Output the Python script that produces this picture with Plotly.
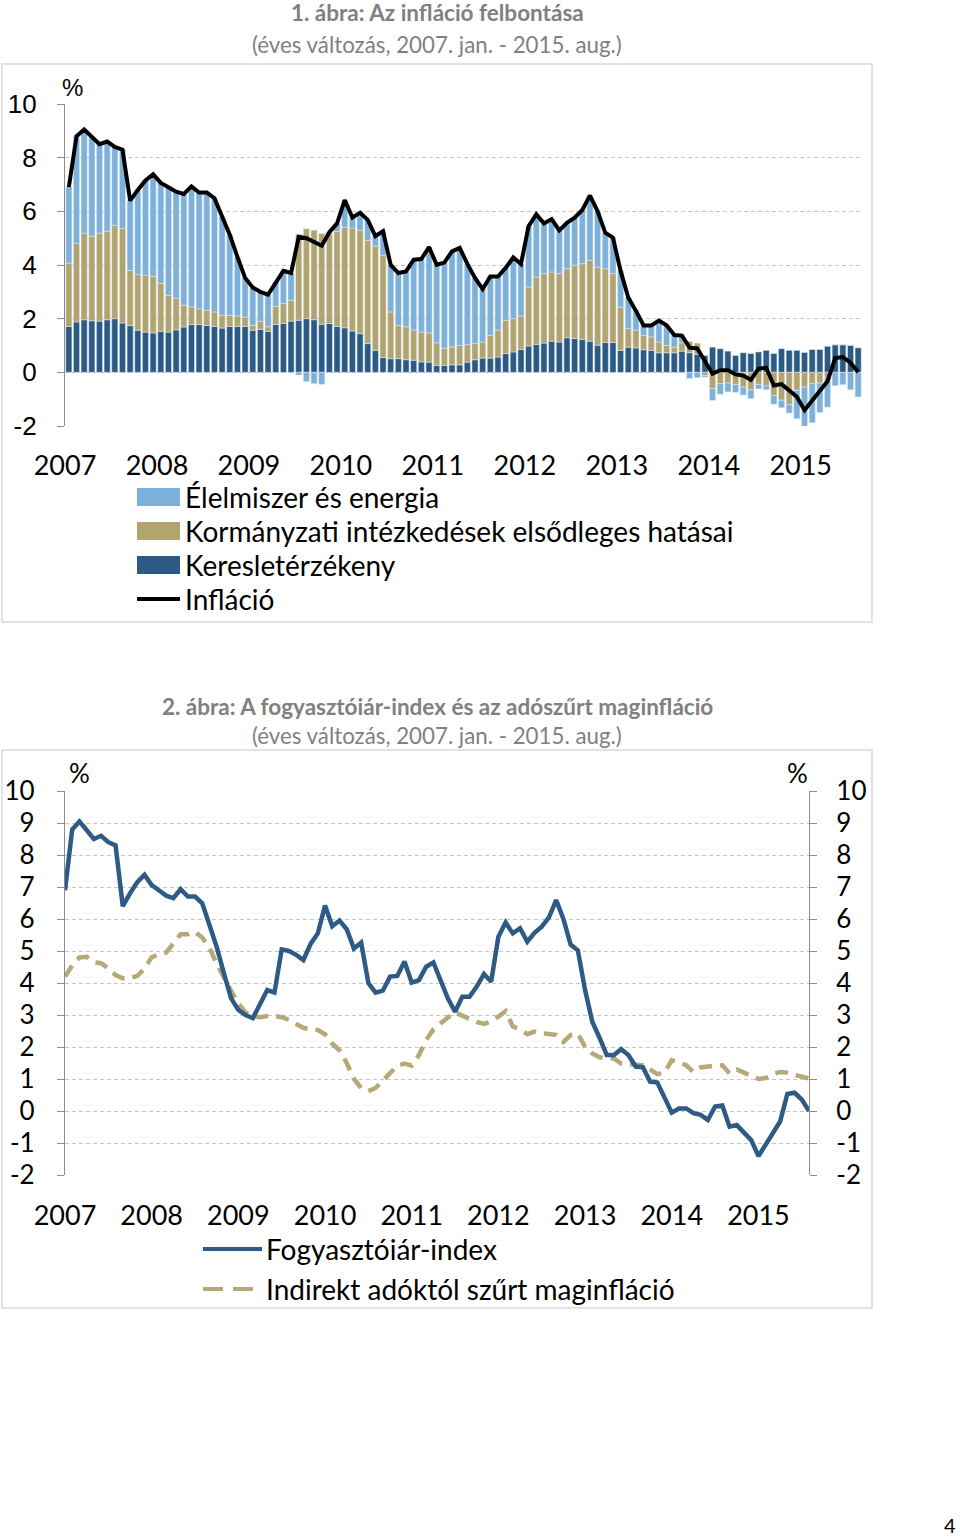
import plotly.graph_objects as go

W, H = 960, 1537

# ---------------- data ----------------
months = list(range(104))          # 2007 Jan ... 2015 Aug
years = [str(y) for y in range(2007, 2016)]

cpi = [6.9, 8.8, 9.05, 8.75, 8.5, 8.6, 8.4, 8.3, 6.4, 6.8, 7.15, 7.38,
       7.06, 6.9, 6.73, 6.65, 6.93, 6.7, 6.7, 6.49, 5.8, 5.13, 4.3, 3.52,
       3.16, 3.0, 2.9, 3.37, 3.78, 3.7, 5.05, 5.0, 4.88, 4.72, 5.22, 5.55,
       6.42, 5.77, 5.95, 5.68, 5.08, 5.26, 4.0, 3.7, 3.76, 4.2, 4.22, 4.67,
       4.01, 4.09, 4.51, 4.64, 4.04, 3.52, 3.1, 3.57, 3.57, 3.89, 4.28, 4.04,
       5.45, 5.89, 5.55, 5.71, 5.29, 5.57, 5.76, 6.05, 6.59, 6.0, 5.2, 5.02,
       3.78, 2.79, 2.29, 1.75, 1.75, 1.93, 1.75, 1.39, 1.37, 0.92, 0.89, 0.45,
       -0.05, 0.08, 0.08, -0.07, -0.12, -0.28, 0.14, 0.17, -0.49, -0.44, -0.7, -0.91,
       -1.41, -1.03, -0.65, -0.33, 0.53, 0.57, 0.36, 0.0]

core = [4.2, 4.55, 4.8, 4.82, 4.65, 4.62, 4.45, 4.25, 4.15, 4.15, 4.22, 4.45,
        4.8, 4.9, 4.95, 5.25, 5.52, 5.52, 5.6, 5.42, 5.1, 4.6, 4.15, 3.75,
        3.36, 3.08, 2.97, 2.93, 2.97, 2.97, 2.93, 2.85, 2.72, 2.6, 2.55, 2.53,
        2.4, 2.1, 1.9, 1.5, 1.0, 0.72, 0.62, 0.72, 0.95, 1.2, 1.42, 1.48,
        1.42, 1.75, 2.22, 2.55, 2.75, 2.92, 3.08, 2.98, 2.85, 2.78, 2.72, 2.8,
        2.95, 3.12, 2.64, 2.55, 2.4, 2.48, 2.43, 2.4, 2.38, 2.16, 2.37, 2.42,
        2.0, 1.8, 1.68, 1.64, 1.64, 1.48, 1.46, 1.45, 1.43, 1.3, 1.15, 1.2,
        1.59, 1.52, 1.43, 1.22, 1.36, 1.39, 1.42, 1.43, 1.18, 1.3, 1.2, 1.1,
        1.0, 1.03, 1.15, 1.22, 1.2, 1.13, 1.08, 1.02]

demand = [1.71, 1.88, 1.96, 1.92, 1.91, 1.96, 2.0, 1.84, 1.74, 1.57, 1.5, 1.47,
          1.53, 1.5, 1.58, 1.69, 1.78, 1.78, 1.75, 1.71, 1.65, 1.71, 1.71, 1.71,
          1.57, 1.6, 1.53, 1.78, 1.82, 1.91, 1.94, 2.0, 1.96, 1.79, 1.82, 1.71,
          1.66, 1.54, 1.44, 1.07, 0.82, 0.55, 0.51, 0.51, 0.47, 0.45, 0.39, 0.38,
          0.26, 0.26, 0.28, 0.28, 0.38, 0.47, 0.53, 0.53, 0.57, 0.70, 0.76, 0.85,
          0.98, 1.04, 1.09, 1.16, 1.13, 1.29, 1.26, 1.23, 1.16, 1.01, 1.11, 1.11,
          0.82, 0.94, 0.91, 0.84, 0.82, 0.73, 0.73, 0.73, 0.79, 0.73, 0.67, 0.63,
          0.94, 0.88, 0.79, 0.63, 0.73, 0.70, 0.76, 0.82, 0.70, 0.88, 0.82, 0.82,
          0.74, 0.85, 0.85, 0.97, 1.03, 1.03, 1.01, 0.92]

govt = [2.36, 2.92, 3.23, 3.15, 3.28, 3.3, 3.48, 3.52, 2.06, 2.07, 2.12, 2.11,
        1.78, 1.37, 1.17, 0.81, 0.66, 0.59, 0.56, 0.54, 0.47, 0.41, 0.39, 0.35,
        0.18, 0.3, 0.17, 0.68, 0.74, 0.77, 3.2, 3.35, 3.34, 3.38, 3.33, 3.54,
        3.74, 3.84, 3.86, 3.85, 3.88, 3.8, 1.74, 1.24, 1.23, 1.13, 1.11, 1.09,
        0.84, 0.64, 0.67, 0.72, 0.65, 0.6, 0.6, 0.85, 1.0, 1.24, 1.24, 1.25,
        2.2, 2.51, 2.59, 2.58, 2.55, 2.57, 2.73, 2.82, 3.01, 2.91, 2.75, 2.57,
        1.61, 0.69, 0.66, 0.54, 0.5, 0.4, 0.27, 0.21, 0.31, 0.42, 0.42, -0.12,
        -0.6, -0.42, -0.4, -0.45, -0.55, -0.65, -0.45, -0.5, -0.86, -1.04, -1.2, -0.67,
        -0.55, -0.42, -0.4, -0.2, 0.0, 0.0, 0.0, 0.0]

food = [2.83, 4.0, 3.86, 3.68, 3.31, 3.34, 2.92, 2.94, 2.6, 3.16, 3.53, 3.8,
        3.75, 4.03, 3.98, 4.15, 4.49, 4.33, 4.39, 4.24, 3.68, 3.01, 2.2, 1.46,
        1.41, 1.1, 1.2, 0.91, 1.22, 1.02, -0.1, -0.35, -0.42, -0.45, 0.07, 0.3,
        1.02, 0.39, 0.65, 0.76, 0.38, 0.91, 1.75, 1.95, 2.06, 2.62, 2.72, 3.2,
        2.91, 3.19, 3.56, 3.64, 3.01, 2.45, 1.97, 2.19, 2.0, 1.95, 2.28, 1.94,
        2.27, 2.34, 1.87, 1.97, 1.61, 1.71, 1.77, 2.0, 2.42, 2.08, 1.34, 1.34,
        1.35, 1.16, 0.72, 0.37, 0.43, 0.8, 0.75, 0.45, 0.27, -0.23, -0.2, -0.06,
        -0.45, -0.4, -0.33, -0.3, -0.3, -0.33, -0.17, -0.15, -0.33, -0.28, -0.32, -1.06,
        -1.6, -1.46, -1.1, -1.1, -0.5, -0.46, -0.65, -0.92]

y_ticks1 = [-2, 0, 2, 4, 6, 8, 10]
y_ticks2 = list(range(-2, 11))
y_text1 = [str(v) for v in y_ticks1]   # plain hyphen minus as in the reference
y_text2 = [str(v) for v in y_ticks2]

# ---------------- styling ----------------
C_FOOD = "#7EB1DA"
C_GOV = "#B2A46F"
C_DEM = "#2B5A84"
C_CPI2 = "#2D5B85"
C_CORE = "#B6A877"
GRID = "#c6c6c6"
AXC = "#8c8c8c"
TITLE_C = "#808080"
CAL = "Lato, 'Open Sans', sans-serif"
ARI = "'Liberation Sans', Arial, sans-serif"


def fx(px):
    return px / W


def fy(py):
    return 1 - py / H


fig = go.Figure()

# chart 1: stacked bars + inflation line
fig.add_trace(go.Bar(x=months, y=demand, name="Keresletérzékeny", marker_color=C_DEM,
                     xaxis="x", yaxis="y", showlegend=False))
fig.add_trace(go.Bar(x=months, y=govt, name="Kormányzati intézkedések elsődleges hatásai",
                     marker_color=C_GOV, xaxis="x", yaxis="y", showlegend=False))
fig.add_trace(go.Bar(x=months, y=food, name="Élelmiszer és energia", marker_color=C_FOOD,
                     xaxis="x", yaxis="y", showlegend=False))
fig.add_trace(go.Scatter(x=months, y=cpi, name="Infláció", mode="lines",
                         line=dict(color="black", width=4), xaxis="x", yaxis="y",
                         showlegend=False))

# chart 2: CPI and core inflation
fig.add_trace(go.Scatter(x=months, y=core, name="Indirekt adóktól szűrt maginfláció",
                         mode="lines", line=dict(color=C_CORE, width=4.5, dash="13px,8px"),
                         xaxis="x2", yaxis="y2", showlegend=False))
fig.add_trace(go.Scatter(x=months, y=cpi, name="Fogyasztóiár-index", mode="lines",
                         line=dict(color=C_CPI2, width=4.5), xaxis="x2", yaxis="y2",
                         showlegend=False))
# right-hand axis companion (same series, invisible) so the axis renders
fig.add_trace(go.Scatter(x=months, y=cpi, mode="lines", line=dict(width=0),
                         opacity=0, hoverinfo="skip", xaxis="x2", yaxis="y3",
                         showlegend=False))

dom1_y = [fy(426), fy(104)]
dom2_y = [fy(1175), fy(791)]
zero1 = dom1_y[0] + (0 - (-2)) / 12 * (dom1_y[1] - dom1_y[0])
zero2 = dom2_y[0] + (0 - (-2)) / 12 * (dom2_y[1] - dom2_y[0])

ticks1 = [12 * k - 0.5 for k in range(len(years))]
ticks2 = [12 * k for k in range(len(years))]

fig.update_layout(
    width=W, height=H, autosize=False,
    margin=dict(l=0, r=0, t=0, b=0, pad=0, autoexpand=False),
    paper_bgcolor="white", plot_bgcolor="rgba(0,0,0,0)",
    barmode="relative", bargap=0.2,
    font=dict(family=CAL, color="black"),
    xaxis=dict(domain=[fx(65), fx(862)], range=[-0.5, 103.5], anchor="y",
               tickmode="array", tickvals=ticks1, ticktext=years, automargin=False,
               ticks="outside", ticklen=16, tickcolor="rgba(0,0,0,0)",
               showline=False, showgrid=False, zeroline=False,
               tickfont=dict(family=CAL, size=27, color="black")),
    xaxis3=dict(overlaying="x", range=[-0.5, 103.5], anchor="free", position=zero1,
                tickmode="array", tickvals=ticks1, showticklabels=False, automargin=False,
                ticks="outside", ticklen=9, tickcolor=AXC, showline=True,
                linecolor=AXC, linewidth=1.3, showgrid=False, zeroline=False,
                layer="below traces"),
    yaxis=dict(domain=dom1_y, range=[-2, 10], anchor="x", tickmode="array",
               tickvals=y_ticks1, ticktext=y_text1, automargin=False,
               showgrid=True, gridcolor=GRID, griddash="4px,3px",
               gridwidth=1, zeroline=False, showline=True, linecolor=AXC, linewidth=1.3,
               ticks="outside", ticklen=7, tickcolor=AXC, ticklabelstandoff=15,
               tickfont=dict(family=ARI, size=26, color="black")),
    xaxis2=dict(domain=[fx(65), fx(809)], range=[0, 103], anchor="y2",
                tickmode="array", tickvals=ticks2, ticktext=years, automargin=False,
                ticks="outside", ticklen=17, tickcolor="rgba(0,0,0,0)",
                showline=False, showgrid=False, zeroline=False,
                tickfont=dict(family=CAL, size=27, color="black")),
    xaxis4=dict(overlaying="x2", range=[0, 103], anchor="free", position=zero2,
                tickmode="array", tickvals=ticks2, showticklabels=False, automargin=False,
                ticks="outside", ticklen=8, tickcolor=AXC, showline=True,
                linecolor=AXC, linewidth=1.3, showgrid=False, zeroline=False,
                layer="below traces"),
    yaxis2=dict(domain=dom2_y, range=[-2, 10], anchor="x2", tickmode="array",
                tickvals=y_ticks2, ticktext=y_text2, automargin=False,
                showgrid=True, gridcolor=GRID, griddash="4px,3px",
                gridwidth=1, zeroline=False, showline=True, linecolor=AXC, linewidth=1.3,
                ticks="outside", ticklen=7, tickcolor=AXC, ticklabelstandoff=17,
                tickfont=dict(family=CAL, size=26, color="black")),
    yaxis3=dict(overlaying="y2", side="right", anchor="x2", range=[-2, 10],
                tickmode="array", tickvals=y_ticks2, ticktext=y_text2, automargin=False,
                showgrid=False, zeroline=False,
                showline=True, linecolor=AXC, linewidth=1.3, ticks="outside",
                ticklen=7, tickcolor=AXC, ticklabelstandoff=14,
                tickfont=dict(family=CAL, size=26, color="black")),
)

ann = []


def text(x, y, s, size, color="black", family=CAL, anchor="center"):
    ann.append(dict(x=fx(x), y=fy(y), xref="paper", yref="paper", text=s,
                    showarrow=False, xanchor=anchor, yanchor="middle",
                    font=dict(family=family, size=size, color=color)))


text(437, 12, "<b>1. ábra: Az infláció felbontása</b>", 22.5, TITLE_C)
text(437, 45, "(éves változás, 2007. jan. - 2015. aug.)", 22.3, TITLE_C)
text(72, 88, "%", 24, family=ARI)
legend1 = ["Élelmiszer és energia", "Kormányzati intézkedések elsődleges hatásai",
           "Keresletérzékeny", "Infláció"]
leg1_y = [497, 531, 565, 599]
for s, yy in zip(legend1, leg1_y):
    text(183, yy, s, 28, anchor="left")

text(437, 706, "<b>2. ábra: A fogyasztóiár-index és az adószűrt maginfláció</b>", 22.5, TITLE_C)
text(437, 736, "(éves változás, 2007. jan. - 2015. aug.)", 22.3, TITLE_C)
text(79, 773, "%", 26)
text(797, 773, "%", 26)
legend2 = ["Fogyasztóiár-index", "Indirekt adóktól szűrt maginfláció"]
leg2_y = [1249, 1289]
for s, yy in zip(legend2, leg2_y):
    text(264, yy, s, 28, anchor="left")

text(950, 1525, "4", 20)

shapes = []
# frames
for top, bot in [(64, 622), (750, 1308)]:
    shapes.append(dict(type="rect", xref="paper", yref="paper", x0=fx(2), x1=fx(872),
                       y0=fy(bot), y1=fy(top), line=dict(color="#d9d9d9", width=1.5),
                       fillcolor="rgba(0,0,0,0)", layer="below"))
# legend swatches chart 1
for col, yy in zip([C_FOOD, C_GOV, C_DEM], leg1_y[:3]):
    shapes.append(dict(type="rect", xref="paper", yref="paper", x0=fx(137), x1=fx(180),
                       y0=fy(yy + 9), y1=fy(yy - 9), line=dict(width=0), fillcolor=col))
shapes.append(dict(type="line", xref="paper", yref="paper", x0=fx(137), x1=fx(180),
                   y0=fy(leg1_y[3]), y1=fy(leg1_y[3]), line=dict(color="black", width=4)))
# legend swatches chart 2
shapes.append(dict(type="line", xref="paper", yref="paper", x0=fx(203), x1=fx(262),
                   y0=fy(leg2_y[0]), y1=fy(leg2_y[0]), line=dict(color=C_CPI2, width=4)))
shapes.append(dict(type="line", xref="paper", yref="paper", x0=fx(203), x1=fx(262),
                   y0=fy(leg2_y[1]), y1=fy(leg2_y[1]),
                   line=dict(color=C_CORE, width=4, dash="20px,10px")))

fig.update_layout(annotations=ann, shapes=shapes)

fig.write_html("out.html")
